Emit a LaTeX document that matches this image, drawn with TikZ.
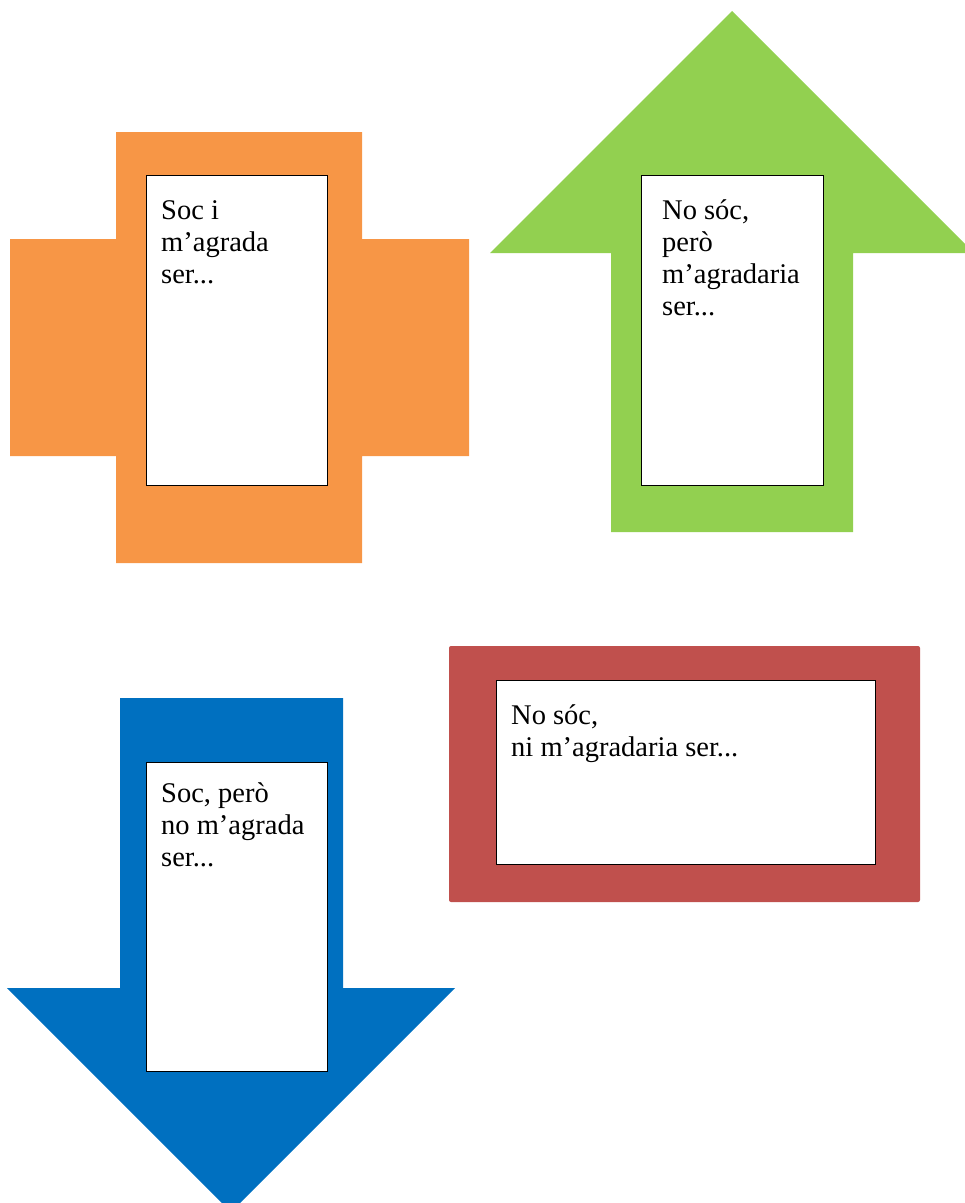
\documentclass[tikz,border=0pt]{standalone}
\usepackage{fontspec}
\setmainfont{Liberation Serif}
\definecolor{corange}{HTML}{F79646}
\definecolor{cgreen}{HTML}{92D050}
\definecolor{cred}{HTML}{C0504D}
\definecolor{cblue}{HTML}{0070C0}
\tikzset{
  wbox/.style={draw=black, line width=1.2pt, fill=white, anchor=north west, inner sep=0pt},
  txt/.style={anchor=base west, align=left, inner sep=0pt, font=\fontsize{28.5}{32}\selectfont}
}
\begin{document}
\begin{tikzpicture}[x=1pt,y=-1pt]
\useasboundingbox (0,0) rectangle (965,1203);
\clip (0,0) rectangle (965,1203);
% orange cross
\fill[corange] (116,132) -- (362,132) -- (362,239) -- (469,239) -- (469,456) -- (362,456) -- (362,563) -- (116,563) -- (116,456) -- (10,456) -- (10,239) -- (116,239) -- cycle;
\node[wbox, minimum width=181pt, minimum height=310pt] (b1) at (146,175) {};
\node[txt] (t1) at (161,283) {Soc i\\m’agrada\\ser...};
% green up arrow
\fill[cgreen] (732,11) -- (974,253) -- (853,253) -- (853,532) -- (611,532) -- (611,253) -- (490,253) -- cycle;
\node[wbox, minimum width=182pt, minimum height=310pt] (b2) at (641,175) {};
\node[txt] (t2) at (662,315) {No sóc,\\però\\m’agradaria\\ser...};
% red frame
\fill[cred, rounded corners=2pt] (449,646) rectangle (920,902);
\node[wbox, minimum width=379pt, minimum height=184pt] (b3) at (496,680) {};
\node[txt] (t3) at (511,756) {No sóc,\\ni m’agradaria ser...};
% blue down arrow
\fill[cblue] (120,698) -- (343,698) -- (343,988) -- (455,988) -- (231,1212) -- (7,988) -- (120,988) -- cycle;
\node[wbox, minimum width=181pt, minimum height=309pt] (b4) at (146,762) {};
\node[txt] (t4) at (161,866) {Soc, però\\no m’agrada\\ser...};
\end{tikzpicture}
\end{document}
